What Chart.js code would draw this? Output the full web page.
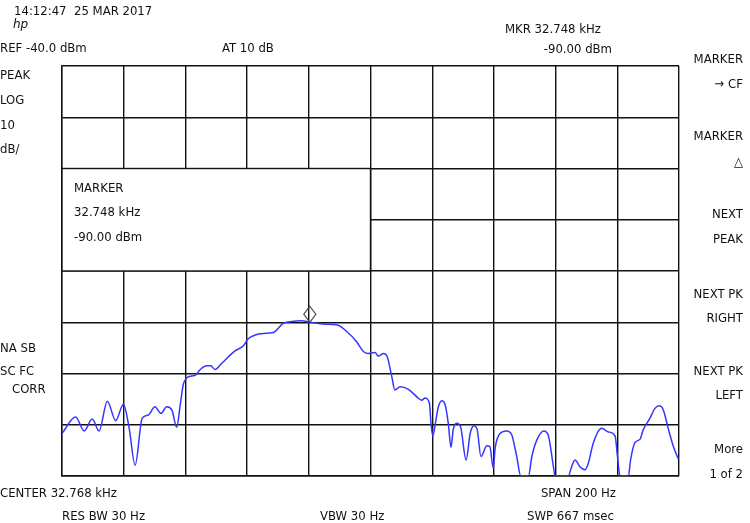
<!DOCTYPE html>
<html>
<head>
<meta charset="utf-8">
<script src="https://cdn.jsdelivr.net/npm/chart.js@4/dist/chart.umd.min.js"></script>
<style>
  html, body { margin: 0; padding: 0; background: #fff; }
  #wrap { width: 750px; height: 523px; position: relative; }
</style>
</head>
<body>
<div id="wrap"><canvas id="specChart"></canvas></div>
<script>
// Spectrum analyser trace, centre 32.768 kHz, span 200 Hz
const freqHz = [
  32668.1, 32672.4, 32675.2, 32677.8, 32680.0, 32682.7, 32685.4, 32687.9, 32689.7, 32691.7,
  32694.0, 32696.0, 32698.1, 32700.1, 32701.9, 32703.6, 32705.2, 32706.2, 32707.3, 32708.4,
  32710.0, 32711.3, 32712.7, 32714.9, 32716.2, 32717.6, 32719.8, 32724.1, 32726.8, 32728.2,
  32730.6, 32733.3, 32736.5, 32739.7, 32741.9, 32745.7, 32748.4, 32753.3, 32757.0, 32760.3,
  32763.5, 32765.7, 32767.3, 32769.5, 32770.5, 32772.2, 32773.4, 32774.9, 32775.9, 32777.6,
  32780.3, 32783.5, 32784.6, 32785.7, 32787.1, 32787.6, 32788.2, 32789.2, 32790.0, 32791.1,
  32792.2, 32793.2, 32794.1, 32794.8, 32795.9, 32797.2, 32799.0, 32800.3, 32801.6, 32802.6,
  32803.8, 32805.7, 32806.7, 32807.8, 32808.4, 32810.0, 32812.2, 32813.8, 32815.4, 32816.7,
  32819.2, 32820.3, 32821.9, 32824.2, 32825.6, 32827.3, 32827.8, 32832.1, 32833.2, 32834.3,
  32835.9, 32837.5, 32838.6, 32840.2, 32842.9, 32845.1, 32847.3, 32848.0, 32848.9, 32851.6,
  32852.3, 32853.7, 32855.4, 32856.4, 32858.6, 32860.2, 32861.6, 32862.9, 32864.5, 32866.2,
  32867.8
];
const levelDbm = [
  -111.6, -108.5, -111.2, -108.9, -111.2, -105.4, -109.2, -106.0, -110.4, -117.9,
  -108.7, -108.1, -106.5, -107.8, -106.5, -107.1, -110.5, -106.7, -102.2, -100.9,
  -100.5, -100.3, -99.3, -98.5, -98.5, -99.2, -98.0, -95.6, -94.6, -93.3,
  -92.5, -92.2, -92.0, -90.2, -89.9, -89.7, -90.0, -90.4, -90.5, -91.8,
  -93.8, -95.7, -96.1, -95.9, -96.6, -96.1, -96.7, -100.6, -103.2, -102.6,
  -103.1, -104.8, -105.2, -104.8, -105.8, -109.7, -112.2, -109.1, -106.5, -105.3,
  -106.1, -109.7, -114.4, -111.0, -109.7, -110.4, -116.9, -111.7, -110.2, -111.0,
  -116.2, -114.1, -114.3, -118.5, -114.6, -111.7, -111.2, -112.0, -116.2, -120.0,
  -120.0, -116.2, -113.0, -111.2, -112.0, -118.2, -120.0, -120.0, -118.2, -116.9,
  -118.2, -118.8, -117.5, -113.6, -110.7, -111.4, -112.2, -115.9, -120.0, -120.0,
  -116.9, -113.5, -112.8, -111.0, -108.7, -106.8, -106.3, -107.1, -110.7, -114.3,
  -116.7
];

const startHz = 32668;
const stopHz = 32868;
const refLevel = -40;
const bottomLevel = -120;
const markerHz = 32748;
const markerDbm = -90;

const textFont = '13px "DejaVu Sans Condensed", "DejaVu Sans", sans-serif';
const ink = '#111';

// header, side and footer annotations: [text, x, y, align]
const labels = [
  ['14:12:47  25 MAR 2017', 14, 12, 'left'],
  ['REF -40.0 dBm', 0, 49, 'left'],
  ['AT 10 dB', 222, 49, 'left'],
  ['MKR 32.748 kHz', 505, 30, 'left'],
  ['-90.00 dBm', 612, 50, 'right'],
  ['PEAK', 0, 76, 'left'],
  ['LOG', 0, 101, 'left'],
  ['10', 0, 126, 'left'],
  ['dB/', 0, 150, 'left'],
  ['NA SB', 0, 349, 'left'],
  ['SC FC', 0, 372, 'left'],
  ['CORR', 12, 390, 'left'],
  ['MARKER', 743, 60, 'right'],
  ['\u2192 CF', 743, 85, 'right'],
  ['MARKER', 743, 137, 'right'],
  ['\u25B3', 743, 163, 'right'],
  ['NEXT', 743, 215, 'right'],
  ['PEAK', 743, 240, 'right'],
  ['NEXT PK', 743, 295, 'right'],
  ['RIGHT', 743, 319, 'right'],
  ['NEXT PK', 743, 372, 'right'],
  ['LEFT', 743, 396, 'right'],
  ['More', 743, 450, 'right'],
  ['1 of 2', 743, 475, 'right'],
  ['CENTER 32.768 kHz', 0, 494, 'left'],
  ['RES BW 30 Hz', 62, 517, 'left'],
  ['VBW 30 Hz', 320, 517, 'left'],
  ['SPAN 200 Hz', 616, 494, 'right'],
  ['SWP 667 msec', 614, 517, 'right']
];
const markerBoxLines = ['MARKER', '32.748 kHz', '-90.00 dBm'];

const overlayPlugin = {
  id: 'overlay',
  beforeDatasetsDraw(chart) {
    const { ctx, scales: { x, y } } = chart;
    // marker readout box covering the upper-left grid cells
    const x0 = x.getPixelForValue(startHz);
    const x1 = x.getPixelForValue(startHz + 100);
    const y0 = y.getPixelForValue(-60);
    const y1 = y.getPixelForValue(-80);
    ctx.save();
    ctx.fillStyle = '#fff';
    ctx.fillRect(x0, y0, x1 - x0, y1 - y0);
    ctx.strokeStyle = ink;
    ctx.lineWidth = 1.4;
    ctx.strokeRect(x0, y0, x1 - x0, y1 - y0);
    ctx.fillStyle = ink;
    ctx.font = textFont;
    ctx.textBaseline = 'middle';
    ctx.textAlign = 'left';
    markerBoxLines.forEach((t, i) => ctx.fillText(t, x0 + 12, y0 + 20 + i * 24.5));
    ctx.restore();
  },
  afterDraw(chart) {
    const { ctx, scales: { x, y } } = chart;
    ctx.save();
    ctx.fillStyle = ink;
    ctx.font = textFont;
    ctx.textBaseline = 'middle';
    labels.forEach(([t, lx, ly, al]) => {
      ctx.textAlign = al;
      ctx.fillText(t, lx, ly);
    });
    // hp logo
    ctx.font = 'italic 12px "DejaVu Sans", sans-serif';
    ctx.textAlign = 'left';
    ctx.fillText('hp', 13, 25);
    // marker diamond above the marked point
    const mx = x.getPixelForValue(markerHz) + 1;
    const my = y.getPixelForValue(markerDbm) - 8;
    ctx.strokeStyle = '#444';
    ctx.lineWidth = 1.2;
    ctx.beginPath();
    ctx.moveTo(mx, my - 8);
    ctx.lineTo(mx + 6, my);
    ctx.lineTo(mx, my + 8);
    ctx.lineTo(mx - 6, my);
    ctx.closePath();
    ctx.stroke();
    ctx.restore();
  }
};

const ctx = document.getElementById('specChart').getContext('2d');

new Chart(ctx, {
  type: 'line',
  data: {
    datasets: [{
      label: 'Trace',
      data: freqHz.map((f, i) => ({ x: f, y: levelDbm[i] })),
      borderColor: '#3636ff',
      borderWidth: 1.5,
      pointRadius: 0,
      cubicInterpolationMode: 'monotone',
      fill: false
    }]
  },
  options: {
    responsive: true,
    maintainAspectRatio: false,
    animation: false,
    layout: {
      padding: { left: 62, top: 66, right: 71, bottom: 47 }
    },
    scales: {
      x: {
        type: 'linear',
        min: startHz,
        max: stopHz,
        ticks: { display: false, stepSize: 20 },
        grid: { color: ink, lineWidth: 1.4, drawTicks: false },
        border: { color: ink, width: 1.4 }
      },
      y: {
        min: bottomLevel,
        max: refLevel,
        ticks: { display: false, stepSize: 10 },
        grid: { color: ink, lineWidth: 1.4, drawTicks: false },
        border: { color: ink, width: 1.4 }
      }
    },
    plugins: {
      legend: { display: false },
      tooltip: { enabled: false }
    }
  },
  plugins: [overlayPlugin]
});
</script>
</body>
</html>
